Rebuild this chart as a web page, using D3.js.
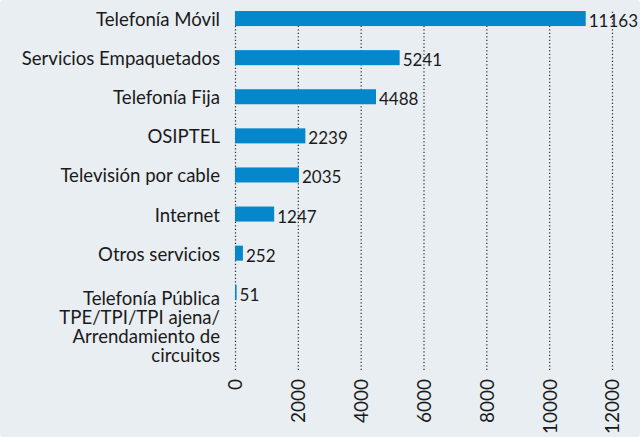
<!DOCTYPE html>
<html>
<head>
<meta charset="utf-8">
<script src="https://cdn.jsdelivr.net/npm/d3@7"></script>
<style>
  html, body { margin: 0; padding: 0; background: #ffffff; }
  svg { display: block; }
</style>
</head>
<body>
<div id="chart"></div>
<script>
// reclamos por servicio
const categories = [
  "Telefonía Móvil",
  "Servicios Empaquetados",
  "Telefonía Fija",
  "OSIPTEL",
  "Televisión por cable",
  "Internet",
  "Otros servicios",
  "Telefonía Pública\nTPE/TPI/TPI ajena/\nArrendamiento de\ncircuitos"
];
const values = [11163, 5241, 4488, 2239, 2035, 1247, 252, 51];
const tickValues = [0, 2000, 4000, 6000, 8000, 10000, 12000];

const width = 640, height = 437;
const font = "Lato, 'Open Sans', sans-serif";

const svg = d3.select("#chart")
  .append("svg")
  .attr("width", width)
  .attr("height", height);

// panel background
svg.append("rect")
  .attr("width", width)
  .attr("height", height)
  .attr("rx", 3)
  .attr("fill", "#e9eef2");

const x = d3.scaleLinear()
  .domain([0, 12000])
  .range([235, 612]);

const y = d3.scaleBand()
  .domain(categories)
  .range([-0.7, 311.5])
  .paddingInner(0.616)
  .paddingOuter(0.3);

const axisY = 370;
const gridTop = 11;

// axis with dotted gridlines (drawn before the bars)
const axis = svg.append("g")
  .attr("transform", `translate(0,${axisY})`)
  .call(d3.axisBottom(x)
    .tickValues(tickValues)
    .tickFormat(d3.format("d"))
    .tickSizeInner(-(axisY - gridTop))
    .tickSizeOuter(0));

axis.select(".domain").remove();
axis.selectAll(".tick line")
  .attr("stroke", "#2a2a2a")
  .attr("stroke-width", 1.2)
  .attr("stroke-dasharray", "1.2,2.3");
axis.selectAll(".tick text")
  .attr("transform", "rotate(-90)")
  .attr("x", -9)
  .attr("y", 0)
  .attr("dy", "0.36em")
  .attr("text-anchor", "end")
  .attr("fill", "#1a1a1a")
  .style("font-family", font)
  .style("font-size", "19px");

// bars
svg.selectAll(".bar")
  .data(values)
  .join("rect")
  .attr("class", "bar")
  .attr("x", x(0))
  .attr("y", (d, i) => y(categories[i]))
  .attr("width", d => x(d) - x(0))
  .attr("height", y.bandwidth())
  .attr("fill", "#0587cb");

// value labels
svg.selectAll(".val")
  .data(values)
  .join("text")
  .attr("class", "val")
  .attr("x", d => x(d) + 3)
  .attr("y", (d, i) => y(categories[i]) + y.bandwidth() + 1)
  .attr("fill", "#1a1a1a")
  .style("font-family", font)
  .style("font-size", "17px")
  .text(d => d);

// category labels (last one wraps onto 4 lines)
const labels = svg.selectAll(".cat")
  .data(categories)
  .join("text")
  .attr("class", "cat")
  .attr("text-anchor", "end")
  .attr("fill", "#1a1a1a")
  .style("font-family", font)
  .style("font-size", "18.6px")
  .attr("transform", d => `translate(220,${y(d) + y.bandwidth() + (d.includes("\n") ? 5 : 0)})`);

labels.each(function(d) {
  const lines = d.split("\n");
  d3.select(this).selectAll("tspan")
    .data(lines)
    .join("tspan")
    .attr("x", 0)
    .attr("y", (l, i) => i * 19)
    .text(l => l);
});
</script>
</body>
</html>
